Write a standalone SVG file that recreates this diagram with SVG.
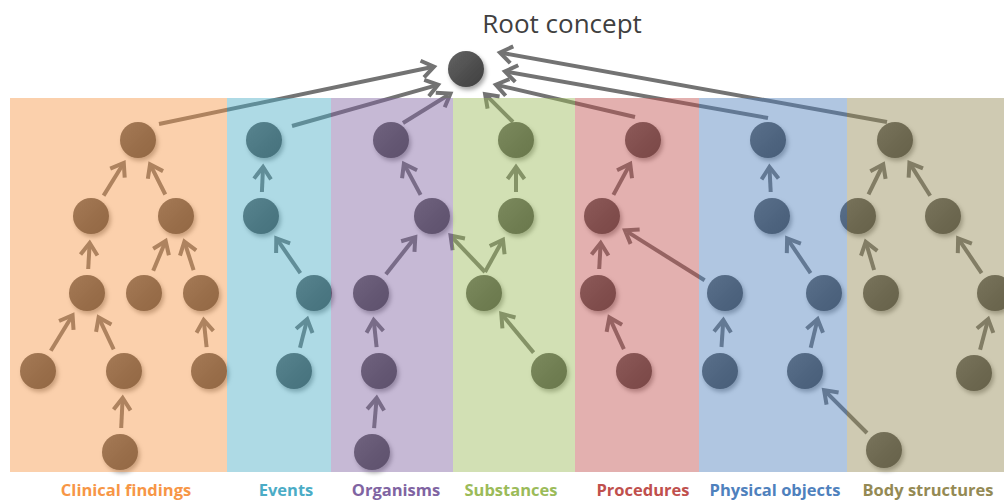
<svg xmlns="http://www.w3.org/2000/svg" width="1004" height="503" viewBox="0 0 1004 503">
  <style>
    .edge { fill: none; stroke: #737373; stroke-width: 4; marker-end: url(#chevron); }
    .node { fill: url(#nodeFill); filter: url(#soft); }
    .band { opacity: 0.45; }
    .title { font-family: "Open Sans", "Liberation Sans", sans-serif; font-size: 26px; fill: #404040; text-anchor: middle; }
    .label { font-family: "Open Sans", "Liberation Sans", sans-serif; font-size: 16.5px; font-weight: 700; text-anchor: middle; }
  </style>
  <defs>
    <linearGradient id="nodeFill" x1="0" y1="0" x2="1" y2="1">
      <stop offset="0" stop-color="#636363"/>
      <stop offset="1" stop-color="#3e3e3e"/>
    </linearGradient>
    <filter id="soft" x="-40%" y="-40%" width="190%" height="190%">
      <feDropShadow dx="2" dy="3" stdDeviation="2" flood-color="#000" flood-opacity="0.35"/>
    </filter>
    <marker id="chevron" markerUnits="userSpaceOnUse" viewBox="-12 -12 20 24" markerWidth="20" markerHeight="24" refX="0" refY="0" orient="auto" overflow="visible">
      <path d="M-9,-8.5 L3,0 L-9,8.5" fill="none" stroke="#737373" stroke-width="4" stroke-linejoin="miter"/>
    </marker>
  </defs>

  <rect width="1004" height="503" fill="#ffffff"/>

  <!-- is-a links, child to parent -->
  <g id="connectors">
    <!-- top concepts to the root -->
    <line class="edge" x1="159" y1="124" x2="431.1" y2="67.2"/>
    <line class="edge" x1="292" y1="126" x2="435.2" y2="85.6"/>
    <line class="edge" x1="403" y1="123" x2="447.9" y2="95.2"/>
    <line class="edge" x1="513" y1="122" x2="487.2" y2="96.2"/>
    <line class="edge" x1="635" y1="117" x2="498.8" y2="85.4"/>
    <line class="edge" x1="768" y1="118" x2="507.9" y2="72"/>
    <line class="edge" x1="887" y1="122" x2="502.9" y2="53.1"/>
    <!-- clinical findings -->
    <line class="edge" x1="103.6" y1="195.6" x2="122.2" y2="165.5"/>
    <line class="edge" x1="165.3" y1="194.5" x2="151.4" y2="166.9"/>
    <line class="edge" x1="88.2" y1="269" x2="89.5" y2="246"/>
    <line class="edge" x1="153.2" y1="270.8" x2="164.5" y2="243.7"/>
    <line class="edge" x1="193.6" y1="270.2" x2="185.3" y2="244.5"/>
    <line class="edge" x1="50.8" y1="350.7" x2="71" y2="317.8"/>
    <line class="edge" x1="113.7" y1="349.3" x2="99.9" y2="320.1"/>
    <line class="edge" x1="121.2" y1="428" x2="122.5" y2="401"/>
    <line class="edge" x1="206.6" y1="347.1" x2="204" y2="322.9"/>
    <!-- events -->
    <line class="edge" x1="261.9" y1="192" x2="262.9" y2="170"/>
    <line class="edge" x1="300.4" y1="273.2" x2="278" y2="240.7"/>
    <line class="edge" x1="300" y1="347.7" x2="306.5" y2="322.1"/>
    <!-- organisms -->
    <line class="edge" x1="420.6" y1="194.9" x2="405.3" y2="166.4"/>
    <line class="edge" x1="385.9" y1="274.2" x2="413.4" y2="239.5"/>
    <line class="edge" x1="376.6" y1="347.1" x2="374" y2="322.9"/>
    <line class="edge" x1="374.1" y1="428.1" x2="376.4" y2="400.9"/>
    <!-- substances -->
    <line class="edge" x1="516" y1="192" x2="516" y2="170"/>
    <line class="edge" x1="485" y1="272" x2="501.5" y2="242.3"/>
    <line class="edge" x1="485" y1="272" x2="452.6" y2="237.8"/>
    <line class="edge" x1="533.6" y1="352.6" x2="503.2" y2="316"/>
    <!-- procedures -->
    <line class="edge" x1="613.4" y1="194.9" x2="628.8" y2="166.4"/>
    <line class="edge" x1="599.2" y1="269" x2="600.5" y2="246"/>
    <line class="edge" x1="623.9" y1="349.2" x2="610.6" y2="320.2"/>
    <line class="edge" x1="704.6" y1="280.3" x2="627.5" y2="231.9"/>
    <!-- physical objects -->
    <line class="edge" x1="770.7" y1="192" x2="769.6" y2="170"/>
    <line class="edge" x1="810.6" y1="273.1" x2="788.8" y2="240.9"/>
    <line class="edge" x1="721.5" y1="347" x2="723.1" y2="323"/>
    <line class="edge" x1="810.7" y1="347.7" x2="816.9" y2="322.1"/>
    <line class="edge" x1="867" y1="433" x2="826.2" y2="392.2"/>
    <!-- body structures -->
    <line class="edge" x1="868.5" y1="194.4" x2="881.9" y2="167"/>
    <line class="edge" x1="930.2" y1="195.7" x2="911" y2="165.4"/>
    <line class="edge" x1="874.1" y1="270" x2="866.6" y2="244.7"/>
    <line class="edge" x1="981.6" y1="273.1" x2="959.8" y2="240.9"/>
    <line class="edge" x1="980.1" y1="349.8" x2="987.4" y2="322"/>
  </g>

  <!-- clinical findings -->
  <g id="cf1"><circle class="node" cx="138" cy="140" r="18"/></g>
  <g id="cf2"><circle class="node" cx="91" cy="216" r="18"/></g>
  <g id="cf3"><circle class="node" cx="176" cy="216" r="18"/></g>
  <g id="cf4"><circle class="node" cx="87" cy="293" r="18"/></g>
  <g id="cf5"><circle class="node" cx="144" cy="293" r="18"/></g>
  <g id="cf6"><circle class="node" cx="201" cy="293" r="18"/></g>
  <g id="cf7"><circle class="node" cx="38" cy="371" r="18"/></g>
  <g id="cf8"><circle class="node" cx="124" cy="371" r="18"/></g>
  <g id="cf9"><circle class="node" cx="209" cy="371" r="18"/></g>
  <g id="cf10"><circle class="node" cx="120" cy="452" r="18"/></g>
  <!-- events -->
  <g id="ev1"><circle class="node" cx="264" cy="140" r="18"/></g>
  <g id="ev2"><circle class="node" cx="261" cy="216" r="18"/></g>
  <g id="ev3"><circle class="node" cx="314" cy="293" r="18"/></g>
  <g id="ev4"><circle class="node" cx="294" cy="371" r="18"/></g>
  <!-- organisms -->
  <g id="or1"><circle class="node" cx="391" cy="140" r="18"/></g>
  <g id="or2"><circle class="node" cx="432" cy="216" r="18"/></g>
  <g id="or3"><circle class="node" cx="371" cy="293" r="18"/></g>
  <g id="or4"><circle class="node" cx="379" cy="371" r="18"/></g>
  <g id="or5"><circle class="node" cx="372" cy="452" r="18"/></g>
  <!-- substances -->
  <g id="su1"><circle class="node" cx="516" cy="140" r="18"/></g>
  <g id="su2"><circle class="node" cx="516" cy="216" r="18"/></g>
  <g id="su3"><circle class="node" cx="484" cy="293" r="18"/></g>
  <g id="su4"><circle class="node" cx="549" cy="371" r="18"/></g>
  <!-- procedures -->
  <g id="pr1"><circle class="node" cx="643" cy="140" r="18"/></g>
  <g id="pr2"><circle class="node" cx="602" cy="216" r="18"/></g>
  <g id="pr3"><circle class="node" cx="598" cy="293" r="18"/></g>
  <g id="pr4"><circle class="node" cx="634" cy="371" r="18"/></g>
  <!-- physical objects -->
  <g id="po1"><circle class="node" cx="768" cy="140" r="18"/></g>
  <g id="po2"><circle class="node" cx="772" cy="216" r="18"/></g>
  <g id="po3"><circle class="node" cx="725" cy="293" r="18"/></g>
  <g id="po4"><circle class="node" cx="824" cy="293" r="18"/></g>
  <g id="po5"><circle class="node" cx="720" cy="371" r="18"/></g>
  <g id="po6"><circle class="node" cx="805" cy="371" r="18"/></g>
  <!-- body structures -->
  <g id="bs1"><circle class="node" cx="895" cy="140" r="18"/></g>
  <g id="bs2"><circle class="node" cx="858" cy="216" r="18"/></g>
  <g id="bs3"><circle class="node" cx="943" cy="216" r="18"/></g>
  <g id="bs4"><circle class="node" cx="881" cy="293" r="18"/></g>
  <g id="bs5"><circle class="node" cx="995" cy="293" r="18"/></g>
  <g id="bs6"><circle class="node" cx="974" cy="373" r="18"/></g>
  <g id="bs7"><circle class="node" cx="884" cy="450" r="18"/></g>

  <!-- translucent hierarchy bands laid over the trees -->
  <g id="bands">
    <rect class="band" x="10" y="98" width="217" height="374" fill="#F79646"/>
    <rect class="band" x="227" y="98" width="104" height="374" fill="#4BACC6"/>
    <rect class="band" x="331" y="98" width="122" height="374" fill="#8064A2"/>
    <rect class="band" x="453" y="98" width="122" height="374" fill="#9BBB59"/>
    <rect class="band" x="575" y="98" width="124" height="374" fill="#C0504D"/>
    <rect class="band" x="699" y="98" width="148" height="374" fill="#4F81BD"/>
    <rect class="band" x="847" y="98" width="157" height="374" fill="#948A54"/>
  </g>

  <g id="root">
    <circle class="node" cx="466" cy="69" r="18"/>
    <text class="title" x="562" y="33">Root concept</text>
  </g>

  <g id="labels">
    <text class="label" x="126" y="496" fill="#F79646">Clinical findings</text>
    <text class="label" x="286" y="496" fill="#4BACC6">Events</text>
    <text class="label" x="396" y="496" fill="#8064A2">Organisms</text>
    <text class="label" x="511" y="496" fill="#9BBB59">Substances</text>
    <text class="label" x="643" y="496" fill="#C0504D">Procedures</text>
    <text class="label" x="775" y="496" fill="#4F81BD">Physical objects</text>
    <text class="label" x="928" y="496" fill="#948A54">Body structures</text>
  </g>
</svg>
